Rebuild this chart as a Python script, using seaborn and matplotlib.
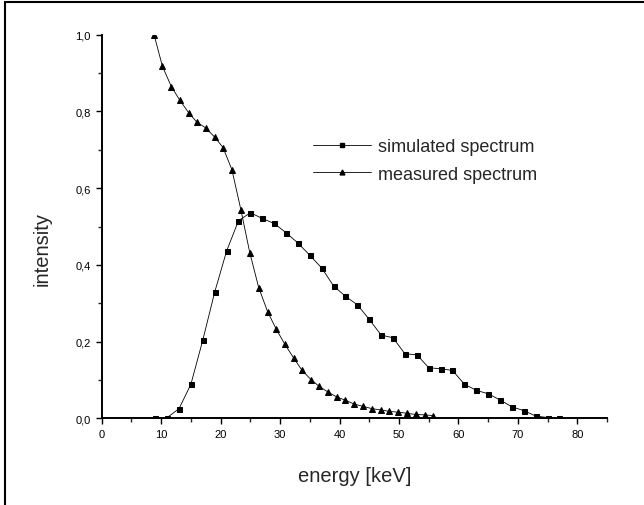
import numpy as np
import pandas as pd
import matplotlib
matplotlib.use('Agg')
import matplotlib.pyplot as plt
from matplotlib.lines import Line2D
from matplotlib.ticker import MultipleLocator, FuncFormatter
import seaborn as sns

# simulated spectrum (squares)
sim_energy = [9, 11, 13, 15, 17, 19, 21, 23, 25, 27, 29, 31, 33, 35, 37, 39, 41, 43,
              45, 47, 49, 51, 53, 55, 57, 59, 61, 63, 65, 67, 69, 71, 73, 75, 77]
sim_intensity = [0.000, 0.002, 0.025, 0.089, 0.204, 0.329, 0.436, 0.515, 0.536, 0.521,
                 0.508, 0.484, 0.457, 0.425, 0.392, 0.345, 0.318, 0.296, 0.258, 0.217,
                 0.210, 0.168, 0.166, 0.132, 0.129, 0.125, 0.089, 0.073, 0.064, 0.048,
                 0.030, 0.020, 0.006, 0.002, 0.001]

# measured spectrum (triangles)
meas_energy = [8.8, 10.2, 11.7, 13.1, 14.6, 16.0, 17.5, 19.0, 20.4, 21.9, 23.4, 24.9,
               26.4, 27.9, 29.3, 30.8, 32.3, 33.7, 35.2, 36.6, 38.1, 39.5, 41.0, 42.5,
               44.0, 45.5, 46.9, 48.4, 49.9, 51.4, 52.8, 54.3, 55.8]
meas_intensity = [1.000, 0.918, 0.865, 0.830, 0.797, 0.772, 0.757, 0.733, 0.706, 0.648,
                  0.544, 0.432, 0.341, 0.278, 0.234, 0.193, 0.157, 0.125, 0.101, 0.083,
                  0.068, 0.056, 0.047, 0.037, 0.031, 0.025, 0.022, 0.018, 0.016, 0.013,
                  0.010, 0.009, 0.007]

sim = pd.DataFrame({'energy': sim_energy, 'intensity': sim_intensity})
meas = pd.DataFrame({'energy': meas_energy, 'intensity': meas_intensity})

sns.set_style('ticks')
plt.rcParams['font.family'] = ['Liberation Sans', 'DejaVu Sans']

fig = plt.figure(figsize=(6.44, 5.06), dpi=100)
ax = fig.add_axes([0.158, 0.1713, 0.7846, 0.7581])

sns.lineplot(data=sim, x='energy', y='intensity', ax=ax, color='black', lw=0.6,
             marker='s', markersize=3.6, markeredgecolor='black', sort=False)
sns.lineplot(data=meas, x='energy', y='intensity', ax=ax, color='black', lw=0.6,
             marker='^', markersize=4.6, markeredgecolor='black', sort=False)

ax.set_xlim(0, 85)
ax.set_ylim(0, 1.0)
ax.xaxis.set_major_locator(MultipleLocator(10))
ax.xaxis.set_minor_locator(MultipleLocator(5))
ax.yaxis.set_major_locator(MultipleLocator(0.2))
ax.yaxis.set_minor_locator(MultipleLocator(0.1))
ax.xaxis.set_major_formatter(FuncFormatter(lambda v, p: '%d' % v))
ax.yaxis.set_major_formatter(FuncFormatter(lambda v, p: ('%.1f' % v).replace('.', ',')))
ax.tick_params(which='major', length=4.5, width=1.0, labelsize=8, pad=3.5, colors='black')
ax.tick_params(which='minor', length=3, width=1.0)

for s in ['top', 'right']:
    ax.spines[s].set_visible(False)
for s in ['left', 'bottom']:
    ax.spines[s].set_linewidth(1.4)
    ax.spines[s].set_color('black')

ax.set_xlabel('energy [keV]', fontsize=14.5, va='center')
ax.set_ylabel('intensity', fontsize=14.5, va='center')
ax.xaxis.set_label_coords(0.5, -0.150)
ax.yaxis.set_label_coords(-0.118, 0.444)

handles = [Line2D([], [], color='black', lw=0.6, marker='s', markersize=3),
           Line2D([], [], color='black', lw=0.6, marker='^', markersize=3.5)]
ax.legend(handles, ['simulated spectrum', 'measured spectrum'], loc='upper left',
          bbox_to_anchor=(0.418, 0.730), frameon=False, fontsize=13,
          handlelength=3.2, handletextpad=0.4, labelspacing=0.58,
          borderpad=0, borderaxespad=0)

# page frame lines (top and left)
fig.add_artist(Line2D([0.0078, 1.0], [0.9931, 0.9931], transform=fig.transFigure,
                      color='black', lw=1.5))
fig.add_artist(Line2D([0.0078, 0.0078], [0.0, 0.9931], transform=fig.transFigure,
                      color='black', lw=1.5))

fig.savefig('out.png', dpi=100)
